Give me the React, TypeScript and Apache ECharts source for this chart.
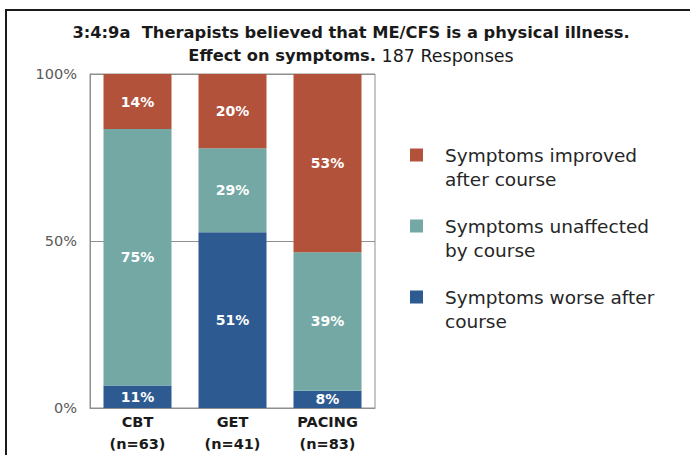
import React, { useEffect, useRef } from "react";
import * as echarts from "echarts";

const categories = ["CBT\n(n=63)", "GET\n(n=41)", "PACING\n(n=83)"];
// bar heights as drawn in the reference (percent of the full bar)
const worse = [6.7, 52.6, 5.2];
const unaffected = [76.8, 25.2, 41.4];
const improved = [16.5, 22.2, 53.4];
// values printed on the bars in the reference
const worseLabels = ["11%", "51%", "8%"];
const unaffectedLabels = ["75%", "29%", "39%"];
const improvedLabels = ["14%", "20%", "53%"];
const yTicks = [0, 50, 100];
const legendNames = [
  "Symptoms improved\nafter course",
  "Symptoms unaffected\nby course",
  "Symptoms worse after\ncourse",
];

const RED = "#B3523B";
const TEAL = "#73A8A5";
const BLUE = "#2D5B91";
const FONT = "DejaVu Sans";

export default function App() {
  const ref = useRef<HTMLDivElement>(null);
  useEffect(() => {
    if (!ref.current) return;
    const chart = echarts.init(ref.current, null, { renderer: "svg" });
    const mkLabel = (texts: string[]) => ({
      show: true,
      position: "inside",
      formatter: (p: any) => texts[p.dataIndex],
      color: "#ffffff",
      fontFamily: FONT,
      fontWeight: "bold",
      fontSize: 14,
    });
    chart.setOption({
      animation: false,
      backgroundColor: "#ffffff",
      title: {
        left: 351,
        top: 21,
        padding: 0,
        textAlign: "center",
        text:
          "{b|3:4:9a  Therapists believed that ME/CFS is a physical illness.}\n{b|Effect on symptoms.}{r| 187 Responses}",
        textStyle: {
          rich: {
            b: { fontFamily: FONT, fontWeight: "bold", fontSize: 16.3, color: "#1a1a1a", lineHeight: 23 },
            r: { fontFamily: FONT, fontWeight: "normal", fontSize: 17.5, color: "#1a1a1a", lineHeight: 23 },
          },
        },
      },
      legend: {
        orient: "vertical",
        left: 410,
        top: 119,
        padding: 0,
        itemGap: -1,
        itemWidth: 13,
        itemHeight: 13,
        icon: "rect",
        selectedMode: false,
        data: legendNames,
        formatter: (name: string) => "\n" + name,
        textStyle: {
          fontFamily: FONT,
          fontSize: 18.5,
          color: "#262626",
          lineHeight: 24,
          padding: [0, 0, 0, 17],
        },
      },
      grid: {
        left: 90,
        top: 74,
        width: 285,
        height: 334,
        show: true,
        borderColor: "#8f8f8f",
        borderWidth: 1,
      },
      xAxis: {
        type: "category",
        data: categories,
        axisLine: { show: true, lineStyle: { color: "#8f8f8f" } },
        axisTick: { show: false },
        axisLabel: {
          fontFamily: FONT,
          fontWeight: "bold",
          fontSize: 14.5,
          color: "#1a1a1a",
          lineHeight: 22,
          margin: 3,
        },
      },
      yAxis: {
        type: "value",
        min: yTicks[0],
        max: yTicks[yTicks.length - 1],
        interval: yTicks[1] - yTicks[0],
        axisLine: { show: true, lineStyle: { color: "#8f8f8f" } },
        axisTick: { show: false },
        splitLine: { show: true, lineStyle: { color: "#8f8f8f" } },
        axisLabel: {
          formatter: "{value}%",
          fontFamily: FONT,
          fontSize: 14.5,
          color: "#595959",
          margin: 13,
        },
      },
      series: [
        { name: legendNames[2], type: "bar", stack: "s", barWidth: 68, data: worse, itemStyle: { color: BLUE }, label: mkLabel(worseLabels) },
        { name: legendNames[1], type: "bar", stack: "s", barWidth: 68, data: unaffected, itemStyle: { color: TEAL }, label: mkLabel(unaffectedLabels) },
        { name: legendNames[0], type: "bar", stack: "s", barWidth: 68, data: improved, itemStyle: { color: RED }, label: mkLabel(improvedLabels) },
      ],
      graphic: [
        {
          type: "rect",
          silent: true,
          shape: { x: 6, y: 10, width: 800, height: 600 },
          style: { fill: "none", stroke: "#1a1a1a", lineWidth: 2 },
        },
      ],
    });
    return () => chart.dispose();
  }, []);
  return (
    <div
      ref={ref}
      style={{ position: "fixed", left: 0, top: 0, width: 690, height: 455 }}
    />
  );
}
